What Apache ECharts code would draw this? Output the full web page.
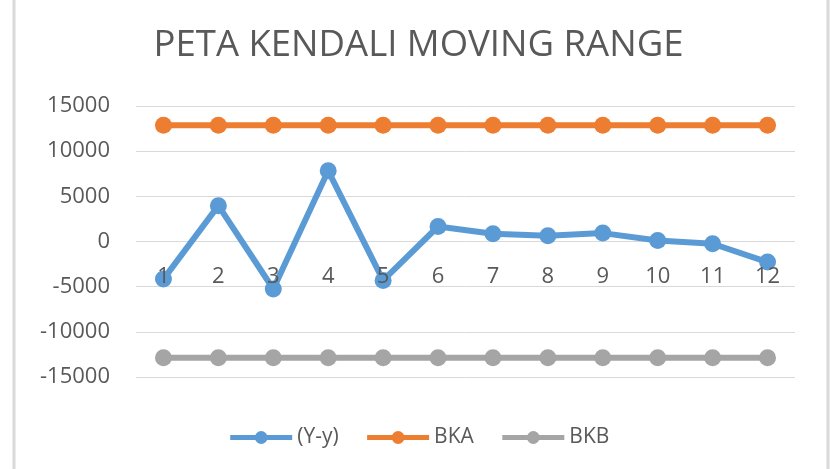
<!DOCTYPE html>
<html>
<head>
<meta charset="utf-8">
<script src="https://cdn.jsdelivr.net/npm/echarts@6/dist/echarts.min.js"></script>
<style>
  html, body { margin: 0; padding: 0; background: #fff; }
  #chart { width: 837px; height: 469px; }
</style>
</head>
<body>
<div id="chart"></div>
<script>
// data
var categories = ['1', '2', '3', '4', '5', '6', '7', '8', '9', '10', '11', '12'];
var selisih = [-4160, 3970, -5260, 7820, -4310, 1660, 850, 630, 930, 110, -250, -2280];
var bka = [12860, 12860, 12860, 12860, 12860, 12860, 12860, 12860, 12860, 12860, 12860, 12860];
var bkb = [-12860, -12860, -12860, -12860, -12860, -12860, -12860, -12860, -12860, -12860, -12860, -12860];

var font = '"Open Sans", sans-serif';
var txt = '#595959';

var myChart = echarts.init(document.getElementById('chart'));
myChart.setOption({
  animation: false,
  color: ['#5B9BD5', '#ED7D31', '#A5A5A5'],
  title: {
    text: 'PETA KENDALI MOVING RANGE',
    left: 'center',
    top: 22,
    textStyle: { fontFamily: font, fontSize: 36.5, fontWeight: 'normal', color: txt }
  },
  legend: {
    top: 422,
    left: 'center',
    itemWidth: 62,
    itemHeight: 16,
    itemGap: 26,
    lineStyle: { width: 5 },
    textStyle: { fontFamily: font, fontSize: 21, color: txt },
    data: ['(Y-y)', 'BKA', 'BKB']
  },
  graphic: [
    { type: 'line', shape: { x1: 14, y1: 0, x2: 14, y2: 469 }, style: { stroke: '#d9d9d9', lineWidth: 3 } },
    { type: 'line', shape: { x1: 828, y1: 0, x2: 828, y2: 469 }, style: { stroke: '#d9d9d9', lineWidth: 3 } }
  ],
  grid: {
    left: 136,
    right: 42,
    top: 106,
    bottom: 92,
    containLabel: false
  },
  xAxis: {
    type: 'category',
    data: categories,
    boundaryGap: true,
    z: 5,
    // labels sit just under the zero line, like the category axis crossing at 0
    offset: -136,
    axisLine: { show: false, onZero: false },
    axisTick: { show: false },
    axisLabel: { fontFamily: font, fontSize: 22, color: txt, margin: 25 }
  },
  yAxis: {
    type: 'value',
    min: -15000,
    max: 15000,
    interval: 5000,
    axisLine: { show: false },
    axisTick: { show: false },
    axisLabel: {
      fontFamily: font, fontSize: 22, color: txt, margin: 26,
      formatter: function (v) { return String(v); }
    },
    splitLine: { lineStyle: { color: '#d9d9d9', width: 1 } }
  },
  series: [
    {
      name: '(Y-y)', type: 'line', data: selisih,
      symbol: 'circle', symbolSize: 17,
      lineStyle: { width: 6 }
    },
    {
      name: 'BKA', type: 'line', data: bka,
      symbol: 'circle', symbolSize: 17,
      lineStyle: { width: 6 }
    },
    {
      name: 'BKB', type: 'line', data: bkb,
      symbol: 'circle', symbolSize: 17,
      lineStyle: { width: 6 }
    }
  ]
});
</script>
</body>
</html>
